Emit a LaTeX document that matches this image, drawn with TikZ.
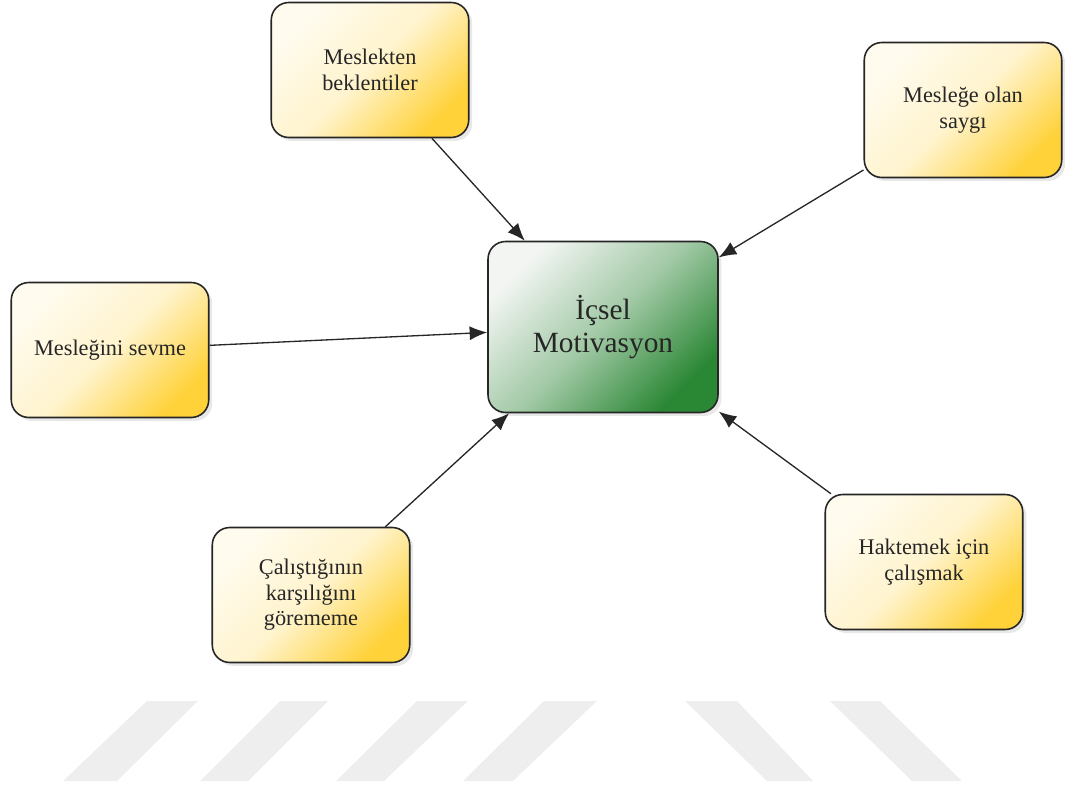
\documentclass[tikz,border=0pt]{standalone}
\usepackage{fontspec}
\setmainfont{Liberation Serif}
\usepackage{xcolor}
\usepackage{tikz}
\usetikzlibrary{arrows.meta,shadows}

\definecolor{cream}{HTML}{FFFBEE}
\definecolor{gold}{HTML}{FFD23A}
\definecolor{palegreen}{HTML}{F2F5F2}
\definecolor{deepgreen}{HTML}{2A8734}
\definecolor{wmgray}{HTML}{EEEEEE}

\begin{document}
\begin{tikzpicture}[x=0.02cm,y=-0.02cm]
			\tikzstyle{cause} = [draw=black!85, line width=0.9pt, rounded corners=0.35cm, minimum width=3.95cm, minimum height=2.7cm, align=center, text=black!85, font=\fontsize{12.7}{14.5}\selectfont, top color=cream, bottom color=gold, middle color=cream!82!gold, shading angle=45, drop shadow={opacity=0.18, shadow xshift=2pt, shadow yshift=-2pt}]
			\tikzstyle{core} = [draw=black!85, line width=0.9pt, rounded corners=0.35cm, minimum width=4.6cm, minimum height=3.42cm, align=center, text=black!85, font=\fontsize{16.7}{18.5}\selectfont, top color=palegreen, bottom color=deepgreen, middle color=palegreen!60!deepgreen, shading angle=45, drop shadow={opacity=0.18, shadow xshift=2pt, shadow yshift=-2pt}]
			\tikzset{edge/.style = {-{Latex[length=10pt,width=8pt]}, line width=0.75pt, black!85}}
			
			\useasboundingbox (0,0) rectangle (1065,787);
			
			% watermark stripes
			\foreach \ta/\tb/\ba/\bb in {147/198/63/117, 280/328/200/248, 417/468/336/384, 544/597/463/513, 685/737/767/813, 830/880/912/962}
				\fill[wmgray] (\ta,701) -- (\tb,701) -- (\bb,781) -- (\ba,781) -- cycle;
			
			\node[core](motivation) at (603,327) {İçsel\\Motivasyon};
			\node[cause](expect) at (370,70) {Meslekten\\beklentiler};
			\node[cause](respect) at (963,110) {Mesleğe olan\\saygı};
			\node[cause](love) at (110,350) {Mesleğini sevme};
			\node[cause](reward) at (311,595) {Çalıştığının\\karşılığını\\görememe};
			\node[cause](merit) at (924,562) {Haktemek için\\çalışmak};
			
			\draw[edge](expect) to (motivation);
			\draw[edge](respect) to (motivation);
			\draw[edge](love) to (motivation);
			\draw[edge](reward) to (motivation);
			\draw[edge](merit) to (motivation);
			
			\end{tikzpicture}
\end{document}
